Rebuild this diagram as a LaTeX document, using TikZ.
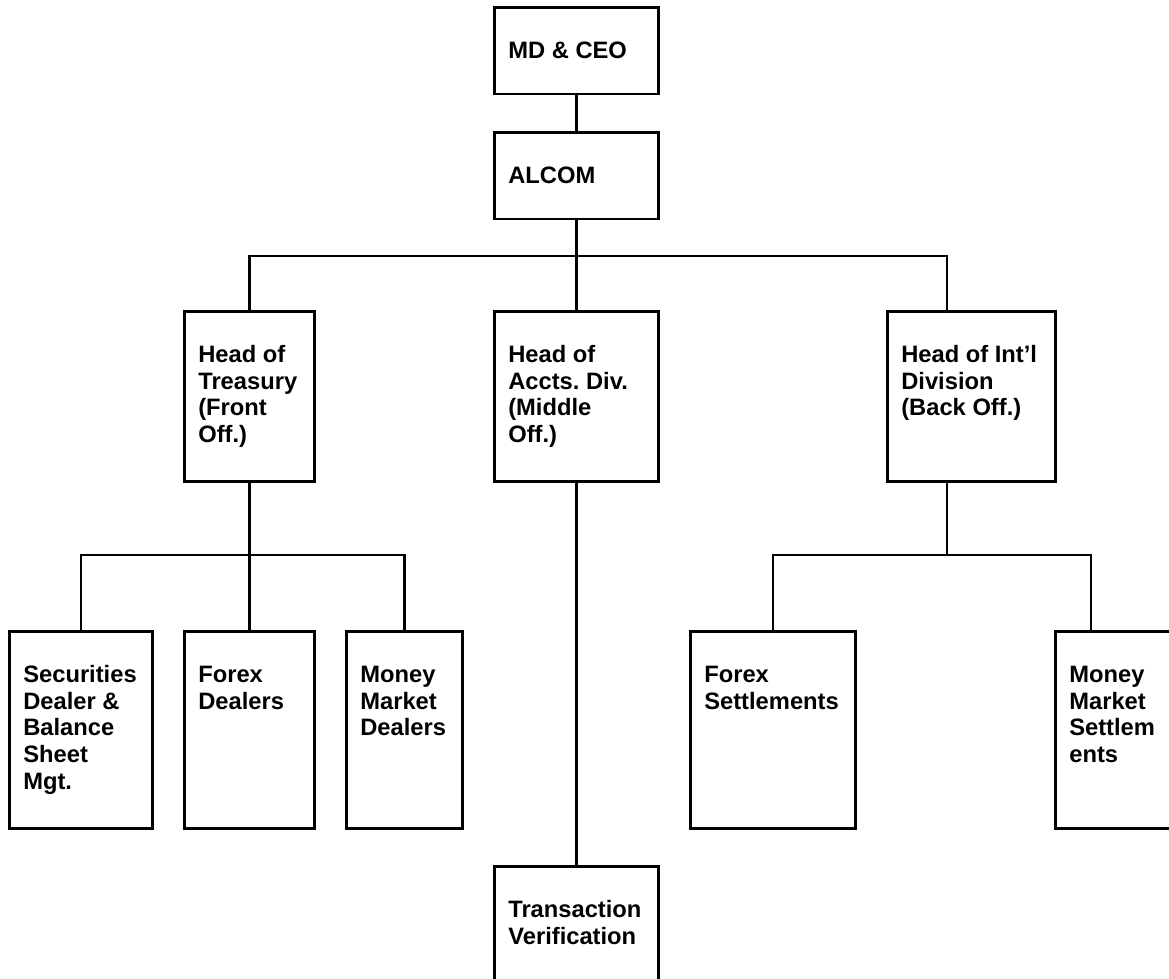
\documentclass[tikz,border=0pt]{standalone}
\usepackage{fontspec}
\setmainfont{Liberation Sans}
\usepackage{tikz}
\usetikzlibrary{positioning}
\frenchspacing

\begin{document}
\begin{tikzpicture}[
  unit/.style={draw, line width=1.5pt, anchor=north west, inner xsep=0.28cm, inner ysep=0pt, align=flush left, text height=1.02cm, font=\fontsize{13.5}{15.2}\selectfont\bfseries},
  topbox/.style={unit, text depth=0.71cm},
  headbox/.style={unit, text depth=2.38cm},
  deskbox/.style={unit, text depth=2.92cm},
  link/.style={line width=1.5pt}
]
\useasboundingbox (0,0) rectangle (23.38,-19.56);
\clip (0,0) rectangle (23.38,-19.56);
% top of the chart
\node[topbox, text width=2.72cm] (md) at (9.86,-0.12) {MD \& CEO};
\node[topbox, text width=2.72cm] (alcom) at (9.86,-2.62) {ALCOM};
% division heads
\node[headbox, text width=2.04cm] (treas) at (3.66,-6.2) {Head of\\Treasury\\(Front\\Off.)};
\node[headbox, text width=2.72cm] (accts) at (9.86,-6.2) {Head of\\Accts. Div.\\(Middle\\Off.)};
\node[headbox, text width=2.8cm] (intl) at (17.72,-6.2) {Head of Int’l\\Division\\(Back Off.)};
% desks
\node[deskbox, text width=2.3cm] (sec) at (0.16,-12.6) {Securities\\Dealer \&\\Balance\\Sheet\\Mgt.};
\node[deskbox, text width=2.04cm] (forexd) at (3.66,-12.6) {Forex\\Dealers};
\node[deskbox, text width=1.76cm] (mmd) at (6.9,-12.6) {Money\\Market\\Dealers};
\node[deskbox, text width=2.74cm] (forexs) at (13.78,-12.6) {Forex\\Settlements};
\node[deskbox, text width=2.44cm] (mms) at (21.08,-12.6) {Money\\Market\\Settlem\\ents};
\node[unit, text depth=3.2cm, text width=2.72cm] (tv) at (9.86,-17.3) {Transaction\\Verification};
% taps off centre
\coordinate (intlin) at (18.94,-6.2);
\coordinate (intlout) at (18.94,-9.6);
\coordinate (mmsin) at (21.82,-12.6);
% lines
\draw[link] (md) -- (alcom);
\draw[link] (alcom.south) -- (accts.north);
\draw[link] (treas.north) -- ++(0,1.08) -| (intlin);
\draw[link] (treas.south) -- (forexd.north);
\draw[link] (sec.north) -- ++(0,1.5) -| (mmd.north);
\draw[link] (intlout) -- ++(0,-1.5);
\draw[link] (forexs.north) -- ++(0,1.5) -| (mmsin);
\draw[link] (accts.south) -- (tv.north);
\end{tikzpicture}
\end{document}
